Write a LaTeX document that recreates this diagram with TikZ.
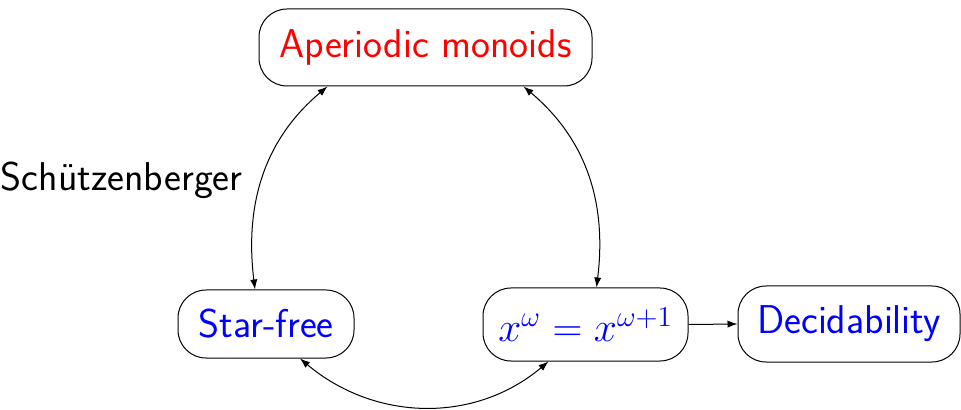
\documentclass[tikz,border=0pt]{standalone}
\usetikzlibrary{arrows.meta}
\begin{document}
\begin{tikzpicture}[x=0.5pt,y=-0.5pt,
  txt/.style={font=\fontsize{20.1}{24}\selectfont\sffamily},
  box/.style={txt,draw,line width=0.5pt,rounded corners=14pt,inner sep=0pt},
  conn/.style={line width=0.5pt,{Latex[length=5pt,width=3.6pt]}-{Latex[length=5pt,width=3.6pt]}},
  oneway/.style={line width=0.5pt,-{Latex[length=5pt,width=3.6pt]}}]
\useasboundingbox (0,0) rectangle (961,410);
\node[box,minimum width=166.5pt,minimum height=38.5pt,text=red] (am) at (425.5,47.5) {Aperiodic monoids};
\node[box,minimum width=88pt,minimum height=34pt,text=blue] (sf) at (266,324) {Star-free};
\node[box,minimum width=102.5pt,minimum height=36.5pt,text=blue] (eq) at (585.5,324.5) {$x^{\omega}=x^{\omega+1}$};
\node[box,minimum width=111pt,minimum height=38pt,text=blue] (dec) at (849,324) {Decidability};
\node[txt,inner sep=0pt,anchor=east] (sch) at (243,180) {Schützenberger};
\draw[conn] ([xshift=-5.5pt]sf.north) to[out=97,in=220] ([xshift=-49pt]am.south);
\draw[conn] ([xshift=5.5pt]eq.north) to[out=83,in=-40] ([xshift=49pt]am.south);
\draw[conn] ([xshift=17pt]sf.south) to[out=-40,in=-140] ([xshift=-18.5pt]eq.south);
\draw[oneway] (eq.east) -- (dec.west);
\end{tikzpicture}
\end{document}
